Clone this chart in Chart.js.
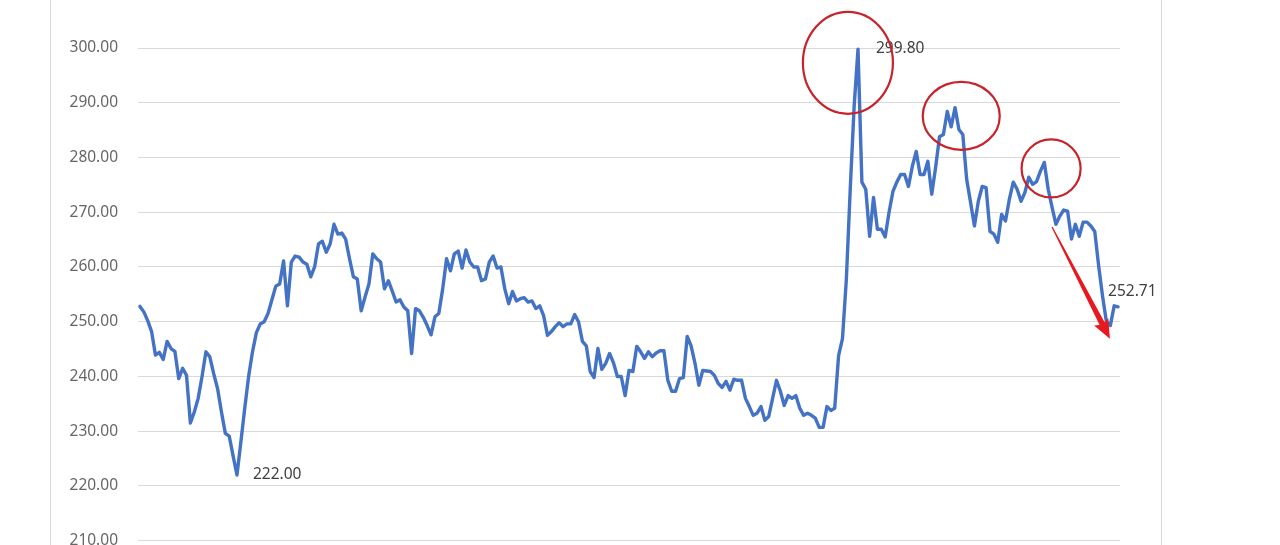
<!DOCTYPE html>
<html>
<head>
<meta charset="utf-8">
<script src="https://cdn.jsdelivr.net/npm/chart.js@4"></script>
<style>
  html, body { margin: 0; padding: 0; background: #ffffff; overflow: hidden; width: 1280px; height: 545px; }
  #wrap { position: relative; width: 1280px; height: 570px; }
  #frame { position: absolute; left: 50px; top: -20px; width: 1112px; height: 620px;
           border-left: 1px solid #d9d9d9; border-right: 1px solid #d9d9d9; box-sizing: border-box; }
  canvas { position: absolute; left: 0; top: 0; }
</style>
</head>
<body>
<div id="wrap">
  <div id="frame"></div>
  <canvas id="c" width="1280" height="570"></canvas>
</div>
<script>
// ---- data ----
const values = [
  252.8,251.8,250.2,248.2,243.9,244.4,243.1,246.4,245.1,244.6,
  239.6,241.5,240.2,231.5,233.5,236.0,240.0,244.5,243.6,240.5,
  237.8,233.5,229.6,229.1,225.5,222.0,228.0,234.2,240.0,244.5,
  248.0,249.6,250.0,251.5,254.0,256.5,256.9,261.1,252.9,260.9,
  262.0,261.8,260.9,260.5,258.2,260.0,264.2,264.7,262.7,264.2,
  267.8,266.0,266.2,265.1,261.5,258.2,257.8,252.0,254.5,256.9,
  262.4,261.5,260.9,
  256.0,257.5,255.6,253.6,254.0,252.7,252.0,244.2,252.4,252.0,
  250.8,249.3,247.6,250.9,251.5,256.0,261.5,259.3,262.4,262.9,
  259.8,263.1,260.9,260.0,260.0,257.5,257.8,260.9,262.0,259.8,
  260.0,256.0,253.3,255.5,253.8,254.2,254.4,253.6,253.8,252.4,
  252.9,251.1,247.5,248.2,249.1,249.8,249.1,249.6,249.6,251.3,
  250.0,246.4,245.6,240.9,239.8,245.1,241.3,242.4,244.2,242.5,
  240.0,240.0,236.5,
  241.1,240.9,245.5,244.5,243.3,244.5,243.6,244.3,244.7,244.7,
  239.3,237.3,237.3,239.6,239.8,247.3,245.6,242.4,238.4,241.1,
  241.0,240.9,240.2,238.7,238.0,239.1,237.5,239.5,239.3,239.3,
  236.0,234.5,232.9,233.3,234.5,232.0,232.7,236.0,239.3,237.3,
  234.7,236.5,236.0,236.5,234.2,232.9,233.3,232.9,232.4,230.7,
  230.7,234.5,233.8,234.2,243.8,246.9,257.8,274.2,289.3,299.8,
  275.5,274.2,265.6,272.7,266.9,266.9,265.5,270.0,273.8,275.5,
  276.9,276.9,274.7,278.4,281.1,276.9,276.9,279.3,273.3,278.2,
  283.8,284.2,288.4,285.6,289.1,285.1,284.2,276.0,271.8,267.5,
  272.0,274.7,274.5,266.5,266.0,264.5,269.6,268.4,272.4,275.5,
  274.2,272.0,273.6,276.4,275.1,275.6,277.5,279.1,274.2,270.9,
  267.8,269.3,270.4,270.2,265.1,267.8,265.6,268.2,268.2,267.5,
  266.5,260.2,254.7,250.0,249.3,252.9,252.71
];
const categories = values.map((_, i) => String(i + 1));
const yTickValues = [210, 220, 230, 240, 250, 260, 270, 280, 290, 300];
const yMin = 210, yMax = 300, yStep = 10;

// labelled points: lowest, highest, last
const minIndex = values.indexOf(Math.min(...values));
const maxIndex = values.indexOf(Math.max(...values));
const lastIndex = values.length - 1;

// annotations in data coordinates (category index, value)
const circles = [
  { index: 182.4, value: 297.3, rx: 45, ry: 51 },
  { index: 211.6, value: 287.6, rx: 38.5, ry: 34 },
  { index: 234.75, value: 278.0, rx: 29.5, ry: 29 }
];
const arrow = { from: { index: 235.0, value: 267.3 }, to: { index: 249.9, value: 246.9 } };

const FONT = '"Noto Sans", "DejaVu Sans", sans-serif';

const overlay = {
  id: 'overlay',
  afterDatasetsDraw(chart) {
    const ctx = chart.ctx;
    const xs = chart.scales.x, ys = chart.scales.y;
    const meta = chart.getDatasetMeta(0);
    ctx.save();
    // data labels
    ctx.font = '15.5px ' + FONT;
    ctx.fillStyle = '#404040';
    ctx.textBaseline = 'middle';
    ctx.textAlign = 'left';
    const pMin = meta.data[minIndex], pMax = meta.data[maxIndex], pLast = meta.data[lastIndex];
    ctx.fillText(values[minIndex].toFixed(2), pMin.x + 16, pMin.y);
    ctx.fillText(values[maxIndex].toFixed(2), pMax.x + 18, pMax.y - 1);
    ctx.fillText(values[lastIndex].toFixed(2), pLast.x - 10, pLast.y - 15);

    // red ellipses
    ctx.strokeStyle = '#c8232b';
    ctx.lineWidth = 2.2;
    circles.forEach(c => {
      const cx = xs.getPixelForValue(c.index);
      const cy = ys.getPixelForValue(c.value);
      ctx.beginPath();
      ctx.ellipse(cx, cy, c.rx, c.ry, 0, 0, Math.PI * 2);
      ctx.stroke();
    });

    // red arrow
    const x1 = xs.getPixelForValue(arrow.from.index), y1 = ys.getPixelForValue(arrow.from.value);
    const x2 = xs.getPixelForValue(arrow.to.index), y2 = ys.getPixelForValue(arrow.to.value);
    const ang = Math.atan2(y2 - y1, x2 - x1);
    const len = Math.hypot(x2 - x1, y2 - y1);
    const headLen = 19, headW = 8, shaftEnd = 2.8, shaftStart = 0.6;
    ctx.translate(x1, y1);
    ctx.rotate(ang);
    ctx.fillStyle = '#e5191f';
    ctx.beginPath();
    ctx.moveTo(0, -shaftStart);
    ctx.lineTo(len - headLen + 2, -shaftEnd);
    ctx.lineTo(len - headLen, -headW);
    ctx.lineTo(len, 0);
    ctx.lineTo(len - headLen, headW);
    ctx.lineTo(len - headLen + 2, shaftEnd);
    ctx.lineTo(0, shaftStart);
    ctx.closePath();
    ctx.fill();
    ctx.restore();
  }
};

new Chart(document.getElementById('c'), {
  type: 'line',
  data: {
    labels: categories,
    datasets: [{
      data: values,
      borderColor: '#4472c4',
      borderWidth: 3.4,
      pointRadius: 0,
      tension: 0,
      borderJoinStyle: 'round',
      borderCapStyle: 'round',
      clip: false
    }]
  },
  options: {
    responsive: false,
    animation: false,
    devicePixelRatio: 1,
    layout: { padding: { left: 0, right: 160, top: 48, bottom: 27 } },
    plugins: { legend: { display: false }, tooltip: { enabled: false } },
    scales: {
      x: {
        type: 'category',
        display: false,
        offset: true
      },
      y: {
        min: yMin,
        max: yMax,
        afterFit(scale) { scale.width = 138; },
        afterBuildTicks(scale) { scale.ticks = yTickValues.map(v => ({ value: v })); },
        border: { display: false },
        grid: { color: '#d9d9d9', lineWidth: 1, drawTicks: false },
        ticks: {
          stepSize: yStep,
          padding: 20,
          color: '#666666',
          font: { family: FONT, size: 15.5 },
          callback: v => Number(v).toFixed(2)
        }
      }
    }
  },
  plugins: [overlay]
});
</script>
</body>
</html>
